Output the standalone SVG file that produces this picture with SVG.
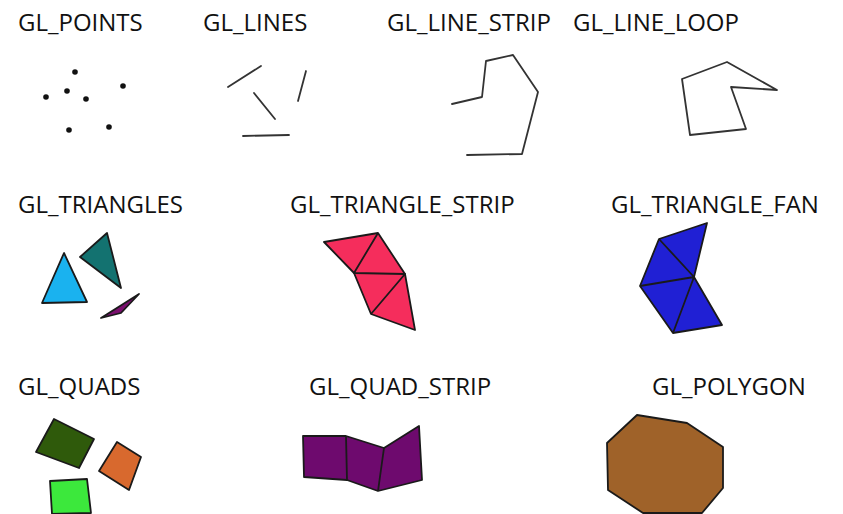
<svg xmlns="http://www.w3.org/2000/svg" width="843" height="514" viewBox="0 0 843 514">
<style>
text{font-family:"Open Sans","Noto Sans","Liberation Sans",sans-serif;font-size:24px;fill:#111}
.ln{fill:none;stroke:#333;stroke-width:1.8;stroke-linejoin:round;stroke-linecap:round}
.sh{stroke:#1a1a1a;stroke-width:1.8;stroke-linejoin:round}
.pt{fill:#111}
</style>
<rect width="843" height="514" fill="#fff"/>
<g id="points">
<text x="18" y="31">GL_POINTS</text>
<circle class="pt" cx="75" cy="72" r="2.8"/>
<circle class="pt" cx="123" cy="86" r="2.8"/>
<circle class="pt" cx="67" cy="91" r="2.8"/>
<circle class="pt" cx="46" cy="97" r="2.8"/>
<circle class="pt" cx="86" cy="99" r="2.8"/>
<circle class="pt" cx="69" cy="130" r="2.8"/>
<circle class="pt" cx="109" cy="127" r="2.8"/>
</g>
<g id="lines">
<text x="203" y="31">GL_LINES</text>
<line class="ln" x1="228" y1="87" x2="261" y2="66"/>
<line class="ln" x1="254" y1="93" x2="275" y2="119"/>
<line class="ln" x1="243" y1="136" x2="289" y2="135"/>
<line class="ln" x1="306" y1="71" x2="298" y2="101"/>
</g>
<g id="line_strip">
<text x="387" y="31">GL_LINE_STRIP</text>
<polyline class="ln" points="452,104 482,97 486,61 513,55 538,92 522,154 467,155"/>
</g>
<g id="line_loop">
<text x="573" y="31">GL_LINE_LOOP</text>
<polygon class="ln" points="682,79 727,62 777,90 731,87 746,129 690,135"/>
</g>
<g id="triangles">
<text x="18" y="213">GL_TRIANGLES</text>
<polygon class="sh" fill="#1ab2ef" points="64,253 42,303 87,302"/>
<polygon class="sh" fill="#137270" points="107,233 80,257 121,288"/>
<polygon class="sh" fill="#7a0f6e" points="139,294 101,318 121,313"/>
</g>
<g id="triangle_strip">
<text x="290" y="213">GL_TRIANGLE_STRIP</text>
<polygon class="sh" fill="#f52d5c" points="324,242 378,233 405,274 415,330 371,314 354,273"/>
<path class="sh" fill="none" d="M378,233 L354,273 L405,274 L371,314"/>
</g>
<g id="triangle_fan">
<text x="611" y="213">GL_TRIANGLE_FAN</text>
<polygon class="sh" fill="#2020d4" points="707,223 694,277 722,325 673,333 640,286 659,239"/>
<path class="sh" fill="none" d="M659,239 L694,277 L640,286 M694,277 L673,333"/>
</g>
<g id="quads">
<text x="18" y="395">GL_QUADS</text>
<polygon class="sh" fill="#2f5a0b" points="54,419 94,439 79,468 36,452"/>
<polygon class="sh" fill="#d8692e" points="117,442 141,457 129,490 99,471"/>
<polygon class="sh" fill="#3ce83c" points="50,481 87,479 91,513 52,514"/>
</g>
<g id="quad_strip">
<text x="309" y="395">GL_QUAD_STRIP</text>
<polygon class="sh" fill="#6e0a6e" points="303,436 346,436 384,448 419,426 422,480 378,491 347,480 304,477"/>
<path class="sh" fill="none" d="M346,436 L347,480 M384,448 L378,491"/>
</g>
<g id="polygon">
<text x="652" y="395">GL_POLYGON</text>
<polygon class="sh" fill="#9f6229" points="637,415 687,423 723,447 723,488 702,513 643,513 608,490 607,443"/>
</g>
</svg>
